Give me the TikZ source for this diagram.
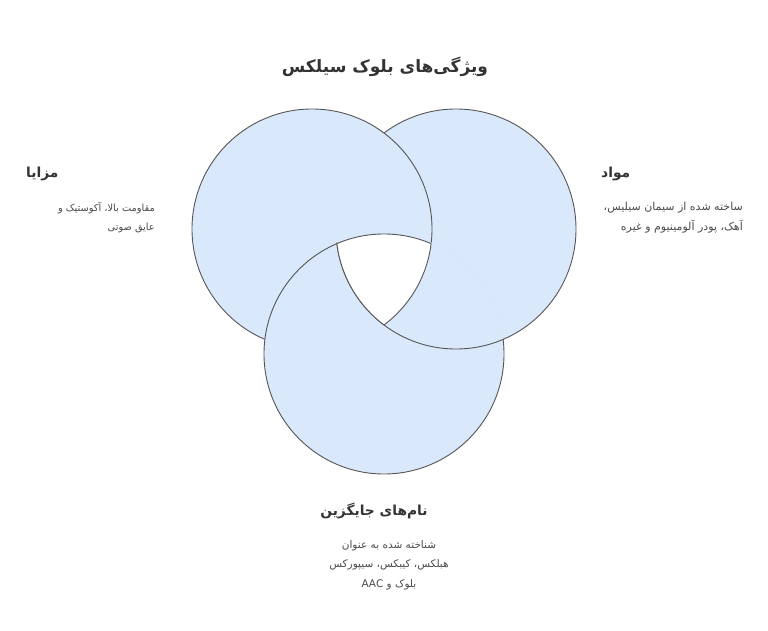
\documentclass[tikz,border=0pt]{standalone}
\usepackage{fontspec}
\TeXXeTstate=1
\newfontfamily\arabicfont[Script=Arabic]{DejaVu Sans}
\definecolor{fillblue}{HTML}{DAE8FC}
\definecolor{edgegray}{HTML}{555555}
\definecolor{headtxt}{HTML}{333333}
\definecolor{bodytxt}{HTML}{4A4A4A}
\tikzset{
  circ/.style={fill=fillblue, draw=edgegray, line width=0.9pt},
  rim/.style={draw=edgegray, line width=0.9pt},
  titletxt/.style={font=\arabicfont\bfseries\fontsize{17}{20}\selectfont, text=headtxt, inner sep=0pt},
  headingtxt/.style={font=\arabicfont\bfseries\fontsize{13.8}{16}\selectfont, text=headtxt, inner sep=0pt},
  bodytext/.style={text=bodytxt, inner sep=0pt}
}
\begin{document}
\begin{tikzpicture}[x=1pt,y=-1pt]
\useasboundingbox (0,0) rectangle (768,631);
\coordinate (cL) at (312,229);
\coordinate (cR) at (456,229);
\coordinate (cB) at (384,354);
% base layers
\path[circ] (cR) circle[radius=120pt];
\path[circ] (cL) circle[radius=120pt];
\path[circ] (cB) circle[radius=120pt];
% right circle above bottom circle
\begin{scope}
  \clip (cB) circle[radius=121pt];
  \path[circ] (cR) circle[radius=120pt];
\end{scope}
% white triple intersection
\begin{scope}
  \clip (cL) circle[radius=120pt];
  \clip (cR) circle[radius=120pt];
  \fill[white] (cB) circle[radius=120pt];
\end{scope}
\begin{scope}
  \clip (cR) circle[radius=120pt];
  \clip (cB) circle[radius=120pt];
  \draw[rim] (cL) circle[radius=120pt];
\end{scope}
\begin{scope}
  \clip (cL) circle[radius=120pt];
  \clip (cB) circle[radius=120pt];
  \draw[rim] (cR) circle[radius=120pt];
\end{scope}
\begin{scope}
  \clip (cL) circle[radius=120pt];
  \clip (cR) circle[radius=120pt];
  \draw[rim] (cB) circle[radius=120pt];
\end{scope}
% texts
\node[titletxt] (title) at (385,67) {\beginR ویژگی‌های بلوک سیلکس\endR};
\node[headingtxt, anchor=west] (hL) at (26,174) {\beginR مزایا\endR};
\node[bodytext, font=\arabicfont\fontsize{9.8}{19.5}\selectfont, anchor=north east, align=right] (bL) at (155,202) {\beginR مقاومت بالا، آکوستیک و\endR\\\beginR عایق صوتی\endR};
\node[headingtxt, anchor=west] (hR) at (601,174) {\beginR مواد\endR};
\node[bodytext, font=\arabicfont\fontsize{11}{19.5}\selectfont, anchor=north east, align=right] (bR) at (743,202) {\beginR ساخته شده از سیمان سیلیس،\endR\\\beginR آهک، پودر آلومینیوم و غیره\endR};
\node[headingtxt] (hB) at (374,511) {\beginR نام‌های جایگزین\endR};
\node[bodytext, font=\arabicfont\fontsize{10.5}{19.5}\selectfont, anchor=north, align=center] (bB) at (389,540) {\beginR شناخته شده به عنوان\endR\\\beginR هبلکس، کیبکس، سیپورکس\endR\\\beginR بلوک و \beginL AAC\endL\endR};
\end{tikzpicture}
\end{document}
